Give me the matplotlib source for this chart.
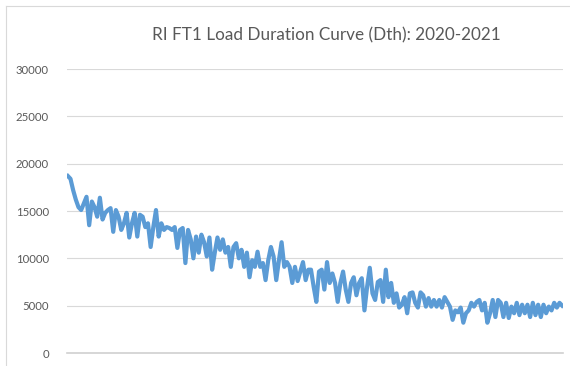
import matplotlib.pyplot as plt
from matplotlib.lines import Line2D

# Daily firm load, sorted high to low (Dth)
load_dth = [
    18700, 18400, 17200, 16200, 15400, 15100, 15800, 16500, 13500, 16000,
    15400, 14400, 16400, 14100, 14800, 15100, 15300, 12800, 15100, 14400,
    13000, 13700, 14800, 12200, 13700, 14800, 12300, 14600, 14400, 13300,
    13700, 11200, 13300, 15100, 12300, 13700, 13000, 13300, 13200, 13000,
    13300, 11100, 13000, 13200, 9500, 13000,
    12000, 10000, 12300, 10600, 12500, 11700, 10200, 12200, 8800, 10600,
    12200, 10900, 12000, 10600, 11200, 9100, 11200, 11600, 10000, 10900,
    9100, 10600, 8000, 9800, 9100, 10700, 9100, 9500, 7700, 9800,
    11200, 10200, 7700, 9800, 11700, 9100, 9600, 9100, 7400, 9100,
    7600, 8600, 9600, 7700, 8800, 8800, 7000, 5400, 8600, 8800,
    6700, 9600, 7400, 8400, 7400, 5400, 7400, 8600, 6700, 5400,
    7400, 8000, 6100, 7400, 7900, 4500, 7000, 9000, 6300, 5600,
    7500, 7700, 5400, 8800, 5900, 7400, 5300, 6300, 4800, 5100,
    5900, 4200, 6300, 6400, 5300, 4800, 6400, 6100, 4900, 5800,
    4900, 5600, 4900, 5600,
    4800, 5900, 5400, 4900, 3500, 4500, 4300, 4800, 3200, 4200,
    4500, 5300, 4900, 5400, 5600, 4500, 5300, 3200, 4200, 5600,
    3800, 5600, 5300, 3800, 5300, 3700, 4900, 4200, 5300, 4000,
    5100, 4200, 5100, 3800, 5300, 4000, 5100, 3800, 5100, 4200,
    4900, 4500, 5300, 4800, 5300, 5000,
]
y_ticks = [0, 5000, 10000, 15000, 20000, 25000, 30000]
title = "RI FT1 Load Duration Curve (Dth): 2020-2021"

plt.rcParams['font.family'] = ['Lato', 'DejaVu Sans']

fig = plt.figure(figsize=(5.7, 3.66), dpi=100)
ax = fig.add_axes([67 / 570, 13 / 366, 496 / 570, 284 / 366])

days = range(len(load_dth))
ax.plot(days, load_dth, color='#5B9BD5', linewidth=3, solid_joinstyle='round')

ax.set_ylim(0, 30000)
ax.set_xlim(-0.3, len(load_dth) - 0.7)
ax.set_yticks(y_ticks)
ax.set_yticklabels([str(t) for t in y_ticks])
ax.set_xticks([])
ax.tick_params(axis='y', length=0, pad=13, labelsize=8.2, labelcolor='#595959')
ax.grid(axis='y', color='#D9D9D9', linewidth=0.8)
ax.set_axisbelow(True)
for side in ['top', 'right', 'left']:
    ax.spines[side].set_visible(False)
ax.spines['bottom'].set_color('#D0D0D0')
ax.spines['bottom'].set_linewidth(1.2)

fig.text(326 / 570, 1 - 35 / 366, title, ha='center', va='center',
         fontsize=12.3, color='#595959')

# chart area border
fig.add_artist(Line2D([6 / 570, 6 / 570], [0, 1 - 6 / 366],
                      color='#D9D9D9', linewidth=0.8))
fig.add_artist(Line2D([6 / 570, 1], [1 - 6 / 366, 1 - 6 / 366],
                      color='#D9D9D9', linewidth=0.8))

fig.savefig("out.png", dpi=100)
